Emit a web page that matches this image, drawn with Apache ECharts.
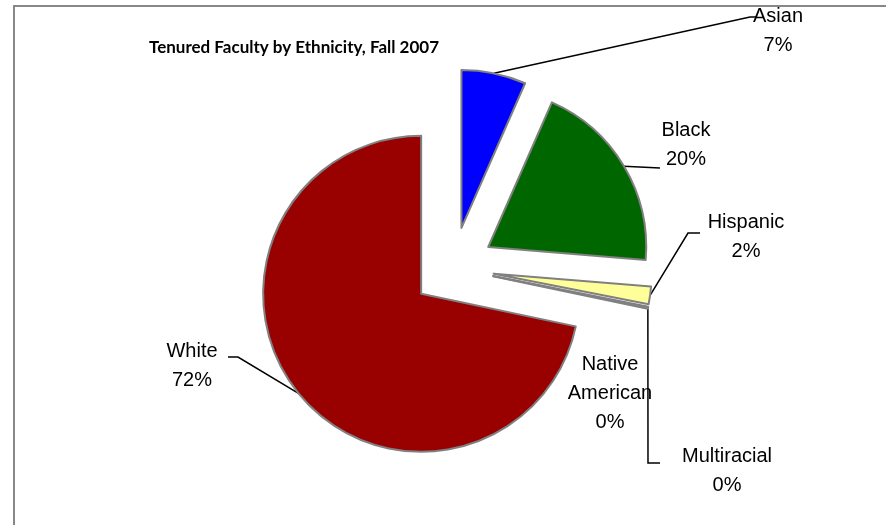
<!DOCTYPE html>
<html><head><meta charset="utf-8">
<script src="https://cdn.jsdelivr.net/npm/echarts@6/dist/echarts.min.js"></script>
<style>html,body{margin:0;padding:0;background:#fff}#c{width:886px;height:525px}</style>
</head><body><div id="c"></div>
<script>
const categories = ['Asian', 'Black', 'Hispanic', 'Native American', 'Multiracial', 'White'];
const percents = [6.6, 19.7, 1.8, 0.1, 0.1, 71.7];
const colors = ['#0000FF', '#006600', '#FFFF99', '#BFBFBF', '#BFBFBF', '#990000'];
const titleText = 'Tenured Faculty by Ethnicity, Fall 2007';

const total = percents.reduce((a, b) => a + b, 0);

// pie geometry (layout, not data)
const PIE_CX = 453, PIE_CY = 268, PIE_R = 158, EXPLODE = 41;

// label centre and leader-line bend / end points, relative to the label centre
const labelPlace = {
  'Asian':           { x: 778, y: 31,  turn: [-28, -14], end: [-21, -14] },
  'Black':           { x: 686, y: 145, turn: [-26, 23],  end: [-26, 23] },
  'Hispanic':        { x: 746, y: 237, turn: [-58, -4],  end: [-46, -4] },
  'Native American': { x: 610, y: 393, none: true },
  'Multiracial':     { x: 727, y: 471, turn: [-79, -8],  end: [-67, -8] },
  'White':           { x: 192, y: 366, turn: [46, -9],   end: [36, -9] }
};

function makeSeries(k) {
  // bisector of slice k, measured clockwise from 12 o'clock
  let before = 0;
  for (let i = 0; i < k; i++) before += percents[i];
  const theta = (before + percents[k] / 2) / total * 2 * Math.PI;
  const cx = PIE_CX + EXPLODE * Math.sin(theta);
  const cy = PIE_CY - EXPLODE * Math.cos(theta);
  const lp = labelPlace[categories[k]];
  return {
    type: 'pie',
    center: [cx, cy],
    radius: PIE_R,
    startAngle: 90,
    clockwise: true,
    avoidLabelOverlap: false,
    silent: true,
    emphasis: { disabled: true },
    label: {
      show: true, position: 'outside',
      fontFamily: 'Liberation Sans, Arial', fontSize: 20, color: '#000', lineHeight: 29,
      formatter: p => p.name.replace(' ', '\n') + '\n' + Math.round(p.value / total * 100) + '%'
    },
    labelLine: { show: !lp.none, length: 5, length2: 5, lineStyle: { color: '#000', width: 1.5 } },
    labelLayout: function (params) {
      const out = { x: lp.x, y: lp.y, align: 'center', verticalAlign: 'middle' };
      if (params.labelLinePoints && !lp.none) {
        const a = params.labelLinePoints[0];
        out.labelLinePoints = [
          [a[0], a[1]],
          [lp.x + lp.turn[0], lp.y + lp.turn[1]],
          [lp.x + lp.end[0], lp.y + lp.end[1]]
        ];
      }
      return out;
    },
    data: categories.map((c, i) => i === k ? {
      name: c, value: percents[i],
      itemStyle: { color: colors[i], borderColor: '#808080', borderWidth: 2 }
    } : {
      name: c, value: percents[i],
      itemStyle: { color: 'rgba(0,0,0,0)', borderWidth: 0 },
      label: { show: false }, labelLine: { show: false }
    })
  };
}

const chart = echarts.init(document.getElementById('c'), null, { renderer: 'canvas' });
chart.setOption({
  animation: false,
  backgroundColor: '#fff',
  title: {
    text: titleText,
    left: 289, top: 34, textAlign: 'center',
    textStyle: { fontFamily: 'Lato', fontWeight: 'bold', fontSize: 17, color: '#000' }
  },
  graphic: [{
    type: 'rect', shape: { x: 14, y: 6, width: 960, height: 600 },
    style: { fill: 'none', stroke: '#888', lineWidth: 2 }, silent: true
  }],
  series: categories.map((c, k) => makeSeries(k))
});
</script></body></html>
